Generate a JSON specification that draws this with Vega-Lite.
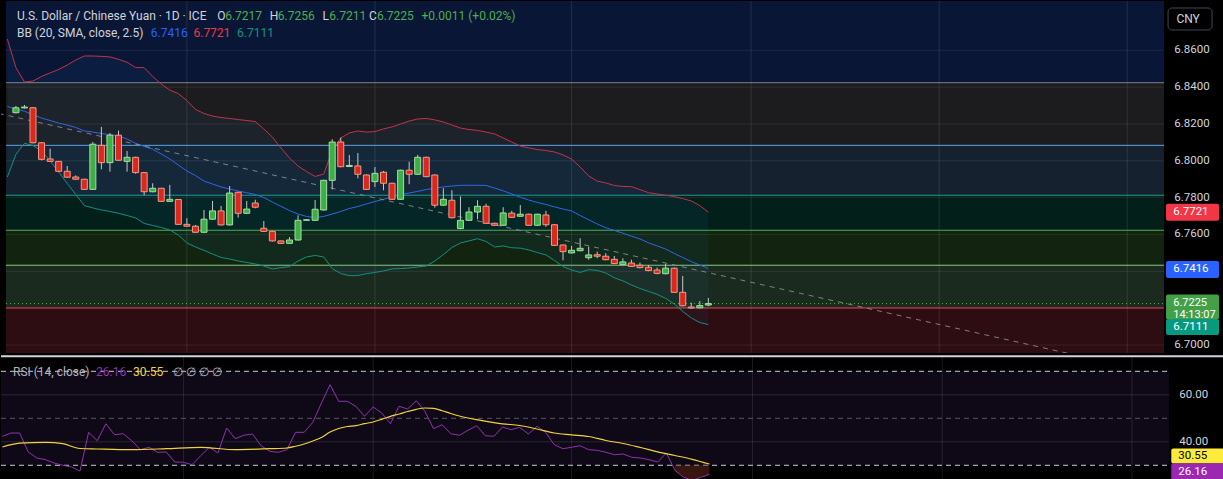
{
  "$schema": "https://vega.github.io/schema/vega-lite/v6.json",
  "background": "#000000",
  "padding": 0,
  "spacing": 0,
  "config": {
    "view": {"stroke": null},
    "text": {"font": "Roboto"}
  },
  "datasets": {
    "zones": [
      {"zone": "z0", "lo": 6.8424, "hi": 6.8900},
      {"zone": "z1", "lo": 6.8084, "hi": 6.8424},
      {"zone": "z2", "lo": 6.7813, "hi": 6.8084},
      {"zone": "z3", "lo": 6.7623, "hi": 6.7813},
      {"zone": "z4", "lo": 6.7433, "hi": 6.7623},
      {"zone": "z5", "lo": 6.7201, "hi": 6.7433},
      {"zone": "z6", "lo": 6.6900, "hi": 6.7201}
    ],
    "levels": [
      {"lvl": "a", "p": 6.8424},
      {"lvl": "b", "p": 6.8084},
      {"lvl": "c", "p": 6.7813},
      {"lvl": "d", "p": 6.7623},
      {"lvl": "e", "p": 6.7433},
      {"lvl": "f", "p": 6.7201}
    ],
    "hgrid": [{"p": 6.70}, {"p": 6.72}, {"p": 6.74}, {"p": 6.76}, {"p": 6.78}, {"p": 6.80}, {"p": 6.82}, {"p": 6.84}, {"p": 6.86}],
    "pticks": [{"p": 6.70}, {"p": 6.76}, {"p": 6.78}, {"p": 6.80}, {"p": 6.82}, {"p": 6.84}, {"p": 6.86}],
    "vgrid": [{"i": 20}, {"i": 42}, {"i": 65}, {"i": 86}, {"i": 108}, {"i": 130}],
    "rgrid": [{"v": 40}, {"v": 60}],
    "rdash": [{"v": 70}, {"v": 30}],
    "trend": [{"i": -2, "p": 6.8257}, {"i": 124, "p": 6.6945}],
    "candles": [
      {"i": 0, "o": 6.8261, "h": 6.8298, "l": 6.8258, "c": 6.8288},
      {"i": 1, "o": 6.8287, "h": 6.8303, "l": 6.8284, "c": 6.8292},
      {"i": 2, "o": 6.8288, "h": 6.8292, "l": 6.8095, "c": 6.8098},
      {"i": 3, "o": 6.8098, "h": 6.8100, "l": 6.8002, "c": 6.8008},
      {"i": 4, "o": 6.8010, "h": 6.8066, "l": 6.7994, "c": 6.7997},
      {"i": 5, "o": 6.7997, "h": 6.7999, "l": 6.7940, "c": 6.7943},
      {"i": 6, "o": 6.7943, "h": 6.7972, "l": 6.7908, "c": 6.7911},
      {"i": 7, "o": 6.7912, "h": 6.7921, "l": 6.7898, "c": 6.7900},
      {"i": 8, "o": 6.7900, "h": 6.7902, "l": 6.7843, "c": 6.7845},
      {"i": 9, "o": 6.7845, "h": 6.8102, "l": 6.7843, "c": 6.8090},
      {"i": 10, "o": 6.8084, "h": 6.8184, "l": 6.7954, "c": 6.7990},
      {"i": 11, "o": 6.7990, "h": 6.8151, "l": 6.7941, "c": 6.8139},
      {"i": 12, "o": 6.8139, "h": 6.8164, "l": 6.8000, "c": 6.8003},
      {"i": 13, "o": 6.7997, "h": 6.8053, "l": 6.7941, "c": 6.8019},
      {"i": 14, "o": 6.8019, "h": 6.8022, "l": 6.7930, "c": 6.7936},
      {"i": 15, "o": 6.7936, "h": 6.7938, "l": 6.7813, "c": 6.7832},
      {"i": 16, "o": 6.7832, "h": 6.7878, "l": 6.7829, "c": 6.7851},
      {"i": 17, "o": 6.7851, "h": 6.7853, "l": 6.7777, "c": 6.7780},
      {"i": 18, "o": 6.7780, "h": 6.7869, "l": 6.7777, "c": 6.7791},
      {"i": 19, "o": 6.7790, "h": 6.7793, "l": 6.7652, "c": 6.7655},
      {"i": 20, "o": 6.7655, "h": 6.7688, "l": 6.7642, "c": 6.7645},
      {"i": 21, "o": 6.7645, "h": 6.7652, "l": 6.7609, "c": 6.7612},
      {"i": 22, "o": 6.7612, "h": 6.7733, "l": 6.7609, "c": 6.7683},
      {"i": 23, "o": 6.7683, "h": 6.7782, "l": 6.7680, "c": 6.7728},
      {"i": 24, "o": 6.7728, "h": 6.7755, "l": 6.7649, "c": 6.7652},
      {"i": 25, "o": 6.7652, "h": 6.7863, "l": 6.7649, "c": 6.7825},
      {"i": 26, "o": 6.7829, "h": 6.7832, "l": 6.7691, "c": 6.7715},
      {"i": 27, "o": 6.7715, "h": 6.7782, "l": 6.7712, "c": 6.7738},
      {"i": 28, "o": 6.7771, "h": 6.7789, "l": 6.7742, "c": 6.7748},
      {"i": 29, "o": 6.7634, "h": 6.7673, "l": 6.7614, "c": 6.7617},
      {"i": 30, "o": 6.7617, "h": 6.7620, "l": 6.7562, "c": 6.7565},
      {"i": 31, "o": 6.7565, "h": 6.7567, "l": 6.7549, "c": 6.7552},
      {"i": 32, "o": 6.7552, "h": 6.7586, "l": 6.7549, "c": 6.7570},
      {"i": 33, "o": 6.7570, "h": 6.7704, "l": 6.7567, "c": 6.7677},
      {"i": 34, "o": 6.7677, "h": 6.7683, "l": 6.7674, "c": 6.7680},
      {"i": 35, "o": 6.7677, "h": 6.7787, "l": 6.7674, "c": 6.7737},
      {"i": 36, "o": 6.7733, "h": 6.7897, "l": 6.7730, "c": 6.7894},
      {"i": 37, "o": 6.7894, "h": 6.8117, "l": 6.7845, "c": 6.8102},
      {"i": 38, "o": 6.8102, "h": 6.8126, "l": 6.7965, "c": 6.7968},
      {"i": 39, "o": 6.7969, "h": 6.8032, "l": 6.7966, "c": 6.7975},
      {"i": 40, "o": 6.7972, "h": 6.8042, "l": 6.7905, "c": 6.7927},
      {"i": 41, "o": 6.7923, "h": 6.7926, "l": 6.7842, "c": 6.7845},
      {"i": 42, "o": 6.7887, "h": 6.7966, "l": 6.7858, "c": 6.7932},
      {"i": 43, "o": 6.7938, "h": 6.7945, "l": 6.7840, "c": 6.7878},
      {"i": 44, "o": 6.7878, "h": 6.7881, "l": 6.7788, "c": 6.7791},
      {"i": 45, "o": 6.7791, "h": 6.7952, "l": 6.7788, "c": 6.7949},
      {"i": 46, "o": 6.7949, "h": 6.7995, "l": 6.7873, "c": 6.7927},
      {"i": 47, "o": 6.7927, "h": 6.8032, "l": 6.7924, "c": 6.8019},
      {"i": 48, "o": 6.8019, "h": 6.8022, "l": 6.7911, "c": 6.7914},
      {"i": 49, "o": 6.7923, "h": 6.7926, "l": 6.7746, "c": 6.7759},
      {"i": 50, "o": 6.7759, "h": 6.7851, "l": 6.7756, "c": 6.7791},
      {"i": 51, "o": 6.7786, "h": 6.7840, "l": 6.7688, "c": 6.7691},
      {"i": 52, "o": 6.7632, "h": 6.7807, "l": 6.7629, "c": 6.7677},
      {"i": 53, "o": 6.7677, "h": 6.7748, "l": 6.7674, "c": 6.7722},
      {"i": 54, "o": 6.7722, "h": 6.7786, "l": 6.7683, "c": 6.7753},
      {"i": 55, "o": 6.7753, "h": 6.7767, "l": 6.7658, "c": 6.7661},
      {"i": 56, "o": 6.7661, "h": 6.7664, "l": 6.7647, "c": 6.7650},
      {"i": 57, "o": 6.7650, "h": 6.7748, "l": 6.7647, "c": 6.7717},
      {"i": 58, "o": 6.7716, "h": 6.7728, "l": 6.7690, "c": 6.7693},
      {"i": 59, "o": 6.7699, "h": 6.7760, "l": 6.7696, "c": 6.7710},
      {"i": 60, "o": 6.7710, "h": 6.7713, "l": 6.7647, "c": 6.7650},
      {"i": 61, "o": 6.7650, "h": 6.7713, "l": 6.7647, "c": 6.7710},
      {"i": 62, "o": 6.7706, "h": 6.7728, "l": 6.7642, "c": 6.7653},
      {"i": 63, "o": 6.7653, "h": 6.7656, "l": 6.7538, "c": 6.7541},
      {"i": 64, "o": 6.7543, "h": 6.7545, "l": 6.7460, "c": 6.7507},
      {"i": 65, "o": 6.7500, "h": 6.7538, "l": 6.7497, "c": 6.7514},
      {"i": 66, "o": 6.7512, "h": 6.7579, "l": 6.7509, "c": 6.7525},
      {"i": 67, "o": 6.7474, "h": 6.7534, "l": 6.7463, "c": 6.7489},
      {"i": 68, "o": 6.7490, "h": 6.7507, "l": 6.7471, "c": 6.7482},
      {"i": 69, "o": 6.7482, "h": 6.7498, "l": 6.7460, "c": 6.7463},
      {"i": 70, "o": 6.7465, "h": 6.7483, "l": 6.7439, "c": 6.7442},
      {"i": 71, "o": 6.7436, "h": 6.7471, "l": 6.7433, "c": 6.7451},
      {"i": 72, "o": 6.7445, "h": 6.7463, "l": 6.7424, "c": 6.7427},
      {"i": 73, "o": 6.7433, "h": 6.7447, "l": 6.7417, "c": 6.7420},
      {"i": 74, "o": 6.7422, "h": 6.7434, "l": 6.7401, "c": 6.7404},
      {"i": 75, "o": 6.7407, "h": 6.7420, "l": 6.7384, "c": 6.7389},
      {"i": 76, "o": 6.7387, "h": 6.7440, "l": 6.7384, "c": 6.7417},
      {"i": 77, "o": 6.7417, "h": 6.7420, "l": 6.7283, "c": 6.7286},
      {"i": 78, "o": 6.7286, "h": 6.7375, "l": 6.7210, "c": 6.7213},
      {"i": 79, "o": 6.7206, "h": 6.7230, "l": 6.7198, "c": 6.7201},
      {"i": 80, "o": 6.7202, "h": 6.7239, "l": 6.7199, "c": 6.7214},
      {"i": 81, "o": 6.7217, "h": 6.7256, "l": 6.7211, "c": 6.7225}
    ],
    "bb": [
      {"i": -1, "u": 6.8661, "m": 6.8295, "lo": 6.7912},
      {"i": 0, "u": 6.8506, "m": 6.8281, "lo": 6.8035},
      {"i": 1, "u": 6.8428, "m": 6.8269, "lo": 6.8095},
      {"i": 2, "u": 6.8433, "m": 6.8251, "lo": 6.8083},
      {"i": 3, "u": 6.8458, "m": 6.8232, "lo": 6.8053},
      {"i": 4, "u": 6.8477, "m": 6.8219, "lo": 6.7999},
      {"i": 5, "u": 6.8496, "m": 6.8205, "lo": 6.7939},
      {"i": 6, "u": 6.8520, "m": 6.8194, "lo": 6.7877},
      {"i": 7, "u": 6.8547, "m": 6.8181, "lo": 6.7817},
      {"i": 8, "u": 6.8569, "m": 6.8162, "lo": 6.7757},
      {"i": 9, "u": 6.8569, "m": 6.8156, "lo": 6.7744},
      {"i": 10, "u": 6.8567, "m": 6.8148, "lo": 6.7733},
      {"i": 11, "u": 6.8564, "m": 6.8142, "lo": 6.7725},
      {"i": 12, "u": 6.8551, "m": 6.8135, "lo": 6.7715},
      {"i": 13, "u": 6.8535, "m": 6.8118, "lo": 6.7703},
      {"i": 14, "u": 6.8506, "m": 6.8095, "lo": 6.7690},
      {"i": 15, "u": 6.8506, "m": 6.8078, "lo": 6.7660},
      {"i": 16, "u": 6.8458, "m": 6.8063, "lo": 6.7649},
      {"i": 17, "u": 6.8417, "m": 6.8037, "lo": 6.7638},
      {"i": 18, "u": 6.8384, "m": 6.8010, "lo": 6.7624},
      {"i": 19, "u": 6.8365, "m": 6.7977, "lo": 6.7597},
      {"i": 20, "u": 6.8327, "m": 6.7945, "lo": 6.7554},
      {"i": 21, "u": 6.8279, "m": 6.7920, "lo": 6.7532},
      {"i": 22, "u": 6.8257, "m": 6.7890, "lo": 6.7514},
      {"i": 23, "u": 6.8243, "m": 6.7874, "lo": 6.7494},
      {"i": 24, "u": 6.8235, "m": 6.7858, "lo": 6.7475},
      {"i": 25, "u": 6.8230, "m": 6.7847, "lo": 6.7467},
      {"i": 26, "u": 6.8224, "m": 6.7836, "lo": 6.7456},
      {"i": 27, "u": 6.8219, "m": 6.7827, "lo": 6.7448},
      {"i": 28, "u": 6.8213, "m": 6.7817, "lo": 6.7440},
      {"i": 29, "u": 6.8173, "m": 6.7801, "lo": 6.7429},
      {"i": 30, "u": 6.8129, "m": 6.7776, "lo": 6.7413},
      {"i": 31, "u": 6.8070, "m": 6.7753, "lo": 6.7420},
      {"i": 32, "u": 6.8015, "m": 6.7730, "lo": 6.7425},
      {"i": 33, "u": 6.7972, "m": 6.7711, "lo": 6.7456},
      {"i": 34, "u": 6.7942, "m": 6.7698, "lo": 6.7478},
      {"i": 35, "u": 6.7915, "m": 6.7691, "lo": 6.7486},
      {"i": 36, "u": 6.7928, "m": 6.7698, "lo": 6.7478},
      {"i": 37, "u": 6.8053, "m": 6.7711, "lo": 6.7415},
      {"i": 38, "u": 6.8124, "m": 6.7725, "lo": 6.7388},
      {"i": 39, "u": 6.8151, "m": 6.7741, "lo": 6.7377},
      {"i": 40, "u": 6.8162, "m": 6.7752, "lo": 6.7377},
      {"i": 41, "u": 6.8156, "m": 6.7766, "lo": 6.7387},
      {"i": 42, "u": 6.8159, "m": 6.7779, "lo": 6.7394},
      {"i": 43, "u": 6.8173, "m": 6.7791, "lo": 6.7402},
      {"i": 44, "u": 6.8184, "m": 6.7804, "lo": 6.7413},
      {"i": 45, "u": 6.8200, "m": 6.7816, "lo": 6.7415},
      {"i": 46, "u": 6.8216, "m": 6.7825, "lo": 6.7418},
      {"i": 47, "u": 6.8227, "m": 6.7834, "lo": 6.7424},
      {"i": 48, "u": 6.8230, "m": 6.7844, "lo": 6.7429},
      {"i": 49, "u": 6.8222, "m": 6.7851, "lo": 6.7456},
      {"i": 50, "u": 6.8211, "m": 6.7858, "lo": 6.7491},
      {"i": 51, "u": 6.8194, "m": 6.7863, "lo": 6.7529},
      {"i": 52, "u": 6.8178, "m": 6.7867, "lo": 6.7554},
      {"i": 53, "u": 6.8170, "m": 6.7867, "lo": 6.7565},
      {"i": 54, "u": 6.8165, "m": 6.7867, "lo": 6.7577},
      {"i": 55, "u": 6.8156, "m": 6.7866, "lo": 6.7562},
      {"i": 56, "u": 6.8146, "m": 6.7852, "lo": 6.7532},
      {"i": 57, "u": 6.8124, "m": 6.7837, "lo": 6.7538},
      {"i": 58, "u": 6.8102, "m": 6.7820, "lo": 6.7528},
      {"i": 59, "u": 6.8080, "m": 6.7802, "lo": 6.7526},
      {"i": 60, "u": 6.8070, "m": 6.7787, "lo": 6.7516},
      {"i": 61, "u": 6.8061, "m": 6.7774, "lo": 6.7502},
      {"i": 62, "u": 6.8056, "m": 6.7763, "lo": 6.7489},
      {"i": 63, "u": 6.8048, "m": 6.7750, "lo": 6.7459},
      {"i": 64, "u": 6.8032, "m": 6.7738, "lo": 6.7426},
      {"i": 65, "u": 6.8010, "m": 6.7728, "lo": 6.7407},
      {"i": 66, "u": 6.7966, "m": 6.7703, "lo": 6.7394},
      {"i": 67, "u": 6.7918, "m": 6.7680, "lo": 6.7409},
      {"i": 68, "u": 6.7890, "m": 6.7657, "lo": 6.7405},
      {"i": 69, "u": 6.7880, "m": 6.7637, "lo": 6.7391},
      {"i": 70, "u": 6.7866, "m": 6.7622, "lo": 6.7365},
      {"i": 71, "u": 6.7861, "m": 6.7607, "lo": 6.7348},
      {"i": 72, "u": 6.7860, "m": 6.7591, "lo": 6.7326},
      {"i": 73, "u": 6.7844, "m": 6.7576, "lo": 6.7307},
      {"i": 74, "u": 6.7827, "m": 6.7555, "lo": 6.7291},
      {"i": 75, "u": 6.7820, "m": 6.7538, "lo": 6.7275},
      {"i": 76, "u": 6.7813, "m": 6.7521, "lo": 6.7253},
      {"i": 77, "u": 6.7806, "m": 6.7497, "lo": 6.7223},
      {"i": 78, "u": 6.7795, "m": 6.7475, "lo": 6.7182},
      {"i": 79, "u": 6.7782, "m": 6.7453, "lo": 6.7147},
      {"i": 80, "u": 6.7757, "m": 6.7434, "lo": 6.7122},
      {"i": 81, "u": 6.7721, "m": 6.7416, "lo": 6.7111}
    ],
    "rsi": [
      {"i": -1, "r": 42.34}, {"i": 0, "r": 43.74}, {"i": 1, "r": 43.74}, {"i": 2, "r": 35.66}, {"i": 3, "r": 33.11},
      {"i": 4, "r": 32.38}, {"i": 5, "r": 30.98}, {"i": 6, "r": 30.00}, {"i": 7, "r": 29.28}, {"i": 8, "r": 27.57},
      {"i": 9, "r": 44.04}, {"i": 10, "r": 40.47}, {"i": 11, "r": 47.70}, {"i": 12, "r": 43.02}, {"i": 13, "r": 43.45},
      {"i": 14, "r": 40.47}, {"i": 15, "r": 36.64}, {"i": 16, "r": 37.66}, {"i": 17, "r": 35.53}, {"i": 18, "r": 35.66},
      {"i": 19, "r": 31.40}, {"i": 20, "r": 31.28}, {"i": 21, "r": 30.26}, {"i": 22, "r": 34.09}, {"i": 23, "r": 37.66},
      {"i": 24, "r": 35.23}, {"i": 25, "r": 45.87}, {"i": 26, "r": 41.32}, {"i": 27, "r": 42.77}, {"i": 28, "r": 43.32},
      {"i": 29, "r": 38.34}, {"i": 30, "r": 35.96}, {"i": 31, "r": 35.53}, {"i": 32, "r": 36.64}, {"i": 33, "r": 44.04},
      {"i": 34, "r": 44.04}, {"i": 35, "r": 48.30}, {"i": 36, "r": 56.51}, {"i": 37, "r": 64.30}, {"i": 38, "r": 57.23},
      {"i": 39, "r": 57.23}, {"i": 40, "r": 55.11}, {"i": 41, "r": 50.85}, {"i": 42, "r": 54.81}, {"i": 43, "r": 52.26},
      {"i": 44, "r": 47.70}, {"i": 45, "r": 55.11}, {"i": 46, "r": 53.96}, {"i": 47, "r": 57.49}, {"i": 48, "r": 52.98},
      {"i": 49, "r": 45.57}, {"i": 50, "r": 47.28}, {"i": 51, "r": 43.45}, {"i": 52, "r": 42.77}, {"i": 53, "r": 44.89},
      {"i": 54, "r": 46.85}, {"i": 55, "r": 42.60}, {"i": 56, "r": 42.34}, {"i": 57, "r": 46.30}, {"i": 58, "r": 45.15},
      {"i": 59, "r": 46.17}, {"i": 60, "r": 43.32}, {"i": 61, "r": 46.60}, {"i": 62, "r": 44.04}, {"i": 63, "r": 38.77},
      {"i": 64, "r": 37.06}, {"i": 65, "r": 37.66}, {"i": 66, "r": 38.34}, {"i": 67, "r": 36.64}, {"i": 68, "r": 36.38},
      {"i": 69, "r": 35.53}, {"i": 70, "r": 34.51}, {"i": 71, "r": 34.81}, {"i": 72, "r": 33.40}, {"i": 73, "r": 33.11},
      {"i": 74, "r": 32.38}, {"i": 75, "r": 31.40}, {"i": 76, "r": 35.23}, {"i": 77, "r": 27.87}, {"i": 78, "r": 24.89},
      {"i": 79, "r": 23.62}, {"i": 80, "r": 24.89}, {"i": 81, "r": 26.16}
    ],
    "rsima": [
      {"i": -1, "v": 37.79}, {"i": 1, "v": 39.40}, {"i": 4, "v": 39.79}, {"i": 6, "v": 39.19}, {"i": 8, "v": 37.15},
      {"i": 10, "v": 36.94}, {"i": 14, "v": 36.64}, {"i": 18, "v": 37.06}, {"i": 22, "v": 37.66}, {"i": 26, "v": 36.64},
      {"i": 30, "v": 37.06}, {"i": 32, "v": 37.36}, {"i": 33, "v": 38.09}, {"i": 34, "v": 39.06}, {"i": 35, "v": 40.34},
      {"i": 36, "v": 41.83}, {"i": 37, "v": 44.17}, {"i": 38, "v": 45.66}, {"i": 39, "v": 46.51}, {"i": 40, "v": 46.85},
      {"i": 41, "v": 47.70}, {"i": 42, "v": 48.43}, {"i": 43, "v": 49.57}, {"i": 44, "v": 50.85}, {"i": 45, "v": 51.83},
      {"i": 46, "v": 52.89}, {"i": 47, "v": 53.83}, {"i": 48, "v": 54.38}, {"i": 49, "v": 54.26}, {"i": 50, "v": 53.23},
      {"i": 51, "v": 52.04}, {"i": 52, "v": 50.98}, {"i": 53, "v": 50.13}, {"i": 54, "v": 49.40}, {"i": 56, "v": 48.17},
      {"i": 57, "v": 47.66}, {"i": 59, "v": 46.94}, {"i": 61, "v": 45.45}, {"i": 63, "v": 43.74}, {"i": 65, "v": 42.98},
      {"i": 67, "v": 42.26}, {"i": 69, "v": 40.55}, {"i": 71, "v": 39.28}, {"i": 73, "v": 37.57}, {"i": 75, "v": 35.74},
      {"i": 77, "v": 34.17}, {"i": 79, "v": 32.55}, {"i": 81, "v": 30.55}
    ]
  },
  "vconcat": [
    {
      "width": 1168,
      "height": 352,
      "layer": [
        {
          "data": {"name": "zones"},
          "mark": {"type": "rect", "clip": true},
          "encoding": {
            "x": {"datum": -1.16, "type": "quantitative", "scale": {"domain": [-1.16, 134.3], "nice": false, "zero": false}, "axis": null},
            "x2": {"datum": 134.3},
            "y": {"field": "lo", "type": "quantitative", "scale": {"domain": [6.69566, 6.88676], "nice": false, "zero": false}, "axis": null},
            "y2": {"field": "hi"},
            "fill": {"field": "zone", "type": "nominal", "legend": null,
              "scale": {"domain": ["z0", "z1", "z2", "z3", "z4", "z5", "z6"], "range": ["#0a1636", "#1c1c1f", "#15212f", "#031f1a", "#122410", "#1b2a1f", "#2d0c12"]}}
          }
        },
        {
          "data": {"name": "hgrid"},
          "mark": {"type": "rule", "stroke": "#ffffff", "strokeOpacity": 0.08, "strokeWidth": 1},
          "encoding": {
            "x": {"datum": -1.16, "type": "quantitative", "axis": null},
            "x2": {"datum": 134.3},
            "y": {"field": "p", "type": "quantitative", "axis": null}
          }
        },
        {
          "data": {"name": "vgrid"},
          "mark": {"type": "rule", "stroke": "#ffffff", "strokeOpacity": 0.1, "strokeWidth": 1},
          "encoding": {
            "x": {"field": "i", "type": "quantitative", "axis": null}
          }
        },
        {
          "data": {"name": "levels"},
          "mark": {"type": "rule", "strokeWidth": 1},
          "encoding": {
            "x": {"datum": -1.16, "type": "quantitative", "axis": null},
            "x2": {"datum": 134.3},
            "y": {"field": "p", "type": "quantitative", "axis": null},
            "stroke": {"field": "lvl", "type": "nominal", "legend": null,
              "scale": {"domain": ["a", "b", "c", "d", "e", "f"], "range": ["#80838d", "#5ea7e6", "#1f9e8f", "#4fae52", "#8bcf80", "#e0404e"]}}
          }
        },
        {
          "data": {"name": "bb"},
          "mark": {"type": "area", "fill": "#2196f3", "opacity": 0.06, "clip": true},
          "encoding": {
            "x": {"field": "i", "type": "quantitative", "axis": null},
            "y": {"field": "u", "type": "quantitative", "axis": null},
            "y2": {"field": "lo"}
          }
        },
        {
          "data": {"name": "bb"},
          "mark": {"type": "line", "stroke": "#c2334a", "strokeWidth": 1, "clip": true},
          "encoding": {
            "x": {"field": "i", "type": "quantitative", "axis": null},
            "y": {"field": "u", "type": "quantitative", "axis": null}
          }
        },
        {
          "data": {"name": "bb"},
          "mark": {"type": "line", "stroke": "#2f66e8", "strokeWidth": 1, "clip": true},
          "encoding": {
            "x": {"field": "i", "type": "quantitative", "axis": null},
            "y": {"field": "m", "type": "quantitative", "axis": null}
          }
        },
        {
          "data": {"name": "bb"},
          "mark": {"type": "line", "stroke": "#12917f", "strokeWidth": 1, "clip": true},
          "encoding": {
            "x": {"field": "i", "type": "quantitative", "axis": null},
            "y": {"field": "lo", "type": "quantitative", "axis": null}
          }
        },
        {
          "data": {"name": "trend"},
          "mark": {"type": "line", "stroke": "#9598a1", "strokeOpacity": 0.8, "strokeWidth": 1, "strokeDash": [5, 5], "clip": true},
          "encoding": {
            "x": {"field": "i", "type": "quantitative", "axis": null},
            "y": {"field": "p", "type": "quantitative", "axis": null}
          }
        },
        {
          "data": {"values": [{}]},
          "mark": {"type": "rule", "stroke": "#4caf50", "strokeWidth": 1, "strokeDash": [1, 3]},
          "encoding": {
            "x": {"datum": -1.16, "type": "quantitative", "axis": null},
            "x2": {"datum": 134.3},
            "y": {"datum": 6.7225, "type": "quantitative", "axis": null}
          }
        },
        {
          "data": {"name": "candles"},
          "mark": {"type": "rule", "stroke": "#c4c7ce", "strokeWidth": 1},
          "encoding": {
            "x": {"field": "i", "type": "quantitative", "axis": null},
            "y": {"field": "l", "type": "quantitative", "axis": null},
            "y2": {"field": "h"}
          }
        },
        {
          "data": {"name": "candles"},
          "mark": {"type": "bar", "width": 6, "strokeWidth": 1},
          "encoding": {
            "x": {"field": "i", "type": "quantitative", "axis": null},
            "y": {"field": "o", "type": "quantitative", "axis": null},
            "y2": {"field": "c"},
            "fill": {"condition": {"test": "datum.c < datum.o", "value": "#d9281e"}, "value": "#3daf48"},
            "stroke": {"condition": {"test": "datum.c < datum.o", "value": "#f49a86"}, "value": "#a3e09e"}
          }
        },
        {
          "data": {"name": "pticks"},
          "mark": {"type": "text", "align": "left", "baseline": "middle", "color": "#d1d4dc", "fontSize": 11.5},
          "encoding": {
            "x": {"datum": 135.5, "type": "quantitative", "axis": null},
            "y": {"field": "p", "type": "quantitative", "axis": null},
            "text": {"field": "p", "type": "quantitative", "format": ".4f"}
          }
        },
        {
          "data": {"values": [{}]},
          "mark": {"type": "tick", "orient": "horizontal", "size": 53, "thickness": 17, "color": "#f23645", "opacity": 1, "cornerRadius": 2},
          "encoding": {"x": {"datum": 137.64, "type": "quantitative", "axis": null}, "y": {"datum": 6.7721, "type": "quantitative", "axis": null}}
        },
        {
          "data": {"values": [{}]},
          "mark": {"type": "tick", "orient": "horizontal", "size": 53, "thickness": 17, "color": "#2962ff", "opacity": 1, "cornerRadius": 2, "yOffset": 1},
          "encoding": {"x": {"datum": 137.64, "type": "quantitative", "axis": null}, "y": {"datum": 6.7416, "type": "quantitative", "axis": null}}
        },
        {
          "data": {"values": [{}]},
          "mark": {"type": "tick", "orient": "horizontal", "size": 53, "thickness": 25, "color": "#43a047", "opacity": 1, "cornerRadius": 2, "yOffset": 3.5},
          "encoding": {"x": {"datum": 137.64, "type": "quantitative", "axis": null}, "y": {"datum": 6.7225, "type": "quantitative", "axis": null}}
        },
        {
          "data": {"values": [{}]},
          "mark": {"type": "tick", "orient": "horizontal", "size": 53, "thickness": 16, "color": "#089981", "opacity": 1, "cornerRadius": 2, "yOffset": 2.5},
          "encoding": {"x": {"datum": 137.64, "type": "quantitative", "axis": null}, "y": {"datum": 6.7111, "type": "quantitative", "axis": null}}
        },
        {
          "data": {"values": [{}]},
          "mark": {"type": "text", "align": "left", "baseline": "middle", "color": "#ffffff", "fontSize": 11.5, "text": "6.7721"},
          "encoding": {"x": {"datum": 135.38, "type": "quantitative", "axis": null}, "y": {"datum": 6.7721, "type": "quantitative", "axis": null}}
        },
        {
          "data": {"values": [{}]},
          "mark": {"type": "text", "align": "left", "baseline": "middle", "color": "#ffffff", "fontSize": 11.5, "text": "6.7416", "dy": 1},
          "encoding": {"x": {"datum": 135.38, "type": "quantitative", "axis": null}, "y": {"datum": 6.7416, "type": "quantitative", "axis": null}}
        },
        {
          "data": {"values": [{}]},
          "mark": {"type": "text", "align": "left", "baseline": "middle", "color": "#ffffff", "fontSize": 11, "text": "6.7225", "dy": -1},
          "encoding": {"x": {"datum": 135.38, "type": "quantitative", "axis": null}, "y": {"datum": 6.7225, "type": "quantitative", "axis": null}}
        },
        {
          "data": {"values": [{}]},
          "mark": {"type": "text", "align": "left", "baseline": "middle", "color": "#ffffff", "fontSize": 11, "text": "14:13:07", "dy": 11},
          "encoding": {"x": {"datum": 135.38, "type": "quantitative", "axis": null}, "y": {"datum": 6.7225, "type": "quantitative", "axis": null}}
        },
        {
          "data": {"values": [{}]},
          "mark": {"type": "text", "align": "left", "baseline": "middle", "color": "#ffffff", "fontSize": 11.5, "text": "6.7111", "dy": 2.5},
          "encoding": {"x": {"datum": 135.38, "type": "quantitative", "axis": null}, "y": {"datum": 6.7111, "type": "quantitative", "axis": null}}
        },
        {
          "data": {"values": [{}]},
          "mark": {"type": "tick", "orient": "horizontal", "size": 44, "thickness": 22, "color": "#000000", "stroke": "#434651", "strokeWidth": 1, "opacity": 1, "cornerRadius": 4},
          "encoding": {"x": {"datum": 137.35, "type": "quantitative", "axis": null}, "y": {"datum": 6.87699, "type": "quantitative", "axis": null}}
        },
        {
          "data": {"values": [{}]},
          "mark": {"type": "text", "align": "center", "baseline": "middle", "color": "#d1d4dc", "fontSize": 12, "text": "CNY"},
          "encoding": {"x": {"datum": 137.12, "type": "quantitative", "axis": null}, "y": {"datum": 6.87699, "type": "quantitative", "axis": null}}
        },
        {
          "data": {"values": [{}]},
          "mark": {"type": "text", "align": "left", "baseline": "middle", "color": "#d1d4dc", "fontSize": 12, "text": "U.S. Dollar / Chinese Yuan · 1D · ICE"},
          "encoding": {"x": {"datum": 0.12, "type": "quantitative", "axis": null}, "y": {"datum": 6.87862, "type": "quantitative", "axis": null}}
        },
        {
          "data": {"values": [{}]},
          "mark": {"type": "text", "align": "left", "baseline": "middle", "color": "#d1d4dc", "fontSize": 12, "text": "O"},
          "encoding": {"x": {"datum": 23.55, "type": "quantitative", "axis": null}, "y": {"datum": 6.87862, "type": "quantitative", "axis": null}}
        },
        {
          "data": {"values": [{}]},
          "mark": {"type": "text", "align": "left", "baseline": "middle", "color": "#4caf50", "fontSize": 12, "text": "6.7217"},
          "encoding": {"x": {"datum": 24.48, "type": "quantitative", "axis": null}, "y": {"datum": 6.87862, "type": "quantitative", "axis": null}}
        },
        {
          "data": {"values": [{}]},
          "mark": {"type": "text", "align": "left", "baseline": "middle", "color": "#d1d4dc", "fontSize": 12, "text": "H"},
          "encoding": {"x": {"datum": 29.70, "type": "quantitative", "axis": null}, "y": {"datum": 6.87862, "type": "quantitative", "axis": null}}
        },
        {
          "data": {"values": [{}]},
          "mark": {"type": "text", "align": "left", "baseline": "middle", "color": "#4caf50", "fontSize": 12, "text": "6.7256"},
          "encoding": {"x": {"datum": 30.63, "type": "quantitative", "axis": null}, "y": {"datum": 6.87862, "type": "quantitative", "axis": null}}
        },
        {
          "data": {"values": [{}]},
          "mark": {"type": "text", "align": "left", "baseline": "middle", "color": "#d1d4dc", "fontSize": 12, "text": "L"},
          "encoding": {"x": {"datum": 35.85, "type": "quantitative", "axis": null}, "y": {"datum": 6.87862, "type": "quantitative", "axis": null}}
        },
        {
          "data": {"values": [{}]},
          "mark": {"type": "text", "align": "left", "baseline": "middle", "color": "#4caf50", "fontSize": 12, "text": "6.7211"},
          "encoding": {"x": {"datum": 36.66, "type": "quantitative", "axis": null}, "y": {"datum": 6.87862, "type": "quantitative", "axis": null}}
        },
        {
          "data": {"values": [{}]},
          "mark": {"type": "text", "align": "left", "baseline": "middle", "color": "#d1d4dc", "fontSize": 12, "text": "C"},
          "encoding": {"x": {"datum": 41.30, "type": "quantitative", "axis": null}, "y": {"datum": 6.87862, "type": "quantitative", "axis": null}}
        },
        {
          "data": {"values": [{}]},
          "mark": {"type": "text", "align": "left", "baseline": "middle", "color": "#4caf50", "fontSize": 12, "text": "6.7225"},
          "encoding": {"x": {"datum": 42.23, "type": "quantitative", "axis": null}, "y": {"datum": 6.87862, "type": "quantitative", "axis": null}}
        },
        {
          "data": {"values": [{}]},
          "mark": {"type": "text", "align": "left", "baseline": "middle", "color": "#4caf50", "fontSize": 12, "text": "+0.0011 (+0.02%)"},
          "encoding": {"x": {"datum": 47.45, "type": "quantitative", "axis": null}, "y": {"datum": 6.87862, "type": "quantitative", "axis": null}}
        },
        {
          "data": {"values": [{}]},
          "mark": {"type": "text", "align": "left", "baseline": "middle", "color": "#d1d4dc", "fontSize": 12, "text": "BB (20, SMA, close, 2.5)"},
          "encoding": {"x": {"datum": 0.12, "type": "quantitative", "axis": null}, "y": {"datum": 6.86912, "type": "quantitative", "axis": null}}
        },
        {
          "data": {"values": [{}]},
          "mark": {"type": "text", "align": "left", "baseline": "middle", "color": "#2962ff", "fontSize": 12, "text": "6.7416"},
          "encoding": {"x": {"datum": 15.78, "type": "quantitative", "axis": null}, "y": {"datum": 6.86912, "type": "quantitative", "axis": null}}
        },
        {
          "data": {"values": [{}]},
          "mark": {"type": "text", "align": "left", "baseline": "middle", "color": "#f23645", "fontSize": 12, "text": "6.7721"},
          "encoding": {"x": {"datum": 20.77, "type": "quantitative", "axis": null}, "y": {"datum": 6.86912, "type": "quantitative", "axis": null}}
        },
        {
          "data": {"values": [{}]},
          "mark": {"type": "text", "align": "left", "baseline": "middle", "color": "#089981", "fontSize": 12, "text": "6.7111"},
          "encoding": {"x": {"datum": 25.87, "type": "quantitative", "axis": null}, "y": {"datum": 6.86912, "type": "quantitative", "axis": null}}
        }
      ]
    },
    {
      "width": 1168,
      "height": 127,
      "layer": [
        {
          "data": {"values": [{}]},
          "mark": {"type": "rect", "fill": "#7b3fb8", "opacity": 0.12},
          "encoding": {
            "x": {"datum": -1.16, "type": "quantitative", "scale": {"domain": [-1.16, 134.3], "nice": false, "zero": false}, "axis": null},
            "x2": {"datum": 134.3},
            "y": {"datum": 30, "type": "quantitative", "scale": {"domain": [22.89, 76.94], "nice": false, "zero": false}, "axis": null},
            "y2": {"datum": 70}
          }
        },
        {
          "data": {"name": "rgrid"},
          "mark": {"type": "rule", "stroke": "#ffffff", "strokeOpacity": 0.12, "strokeWidth": 1},
          "encoding": {
            "x": {"datum": -1.16, "type": "quantitative", "axis": null},
            "x2": {"datum": 134.3},
            "y": {"field": "v", "type": "quantitative", "axis": null}
          }
        },
        {
          "data": {"name": "rgrid"},
          "mark": {"type": "text", "align": "left", "baseline": "middle", "color": "#d1d4dc", "fontSize": 11.5},
          "encoding": {
            "x": {"datum": 135.5, "type": "quantitative", "axis": null},
            "y": {"field": "v", "type": "quantitative", "axis": null},
            "text": {"field": "v", "type": "quantitative", "format": ".2f"}
          }
        },
        {
          "data": {"name": "vgrid"},
          "mark": {"type": "rule", "stroke": "#ffffff", "strokeOpacity": 0.1, "strokeWidth": 1},
          "encoding": {
            "x": {"field": "i", "type": "quantitative", "axis": null}
          }
        },
        {
          "data": {"name": "rdash"},
          "mark": {"type": "rule", "stroke": "#c9ccd4", "strokeWidth": 1, "strokeDash": [5, 4]},
          "encoding": {
            "x": {"datum": -1.16, "type": "quantitative", "axis": null},
            "x2": {"datum": 134.3},
            "y": {"field": "v", "type": "quantitative", "axis": null}
          }
        },
        {
          "data": {"values": [{}]},
          "mark": {"type": "rule", "stroke": "#787b86", "strokeOpacity": 0.7, "strokeWidth": 1, "strokeDash": [5, 4]},
          "encoding": {
            "x": {"datum": -1.16, "type": "quantitative", "axis": null},
            "x2": {"datum": 134.3},
            "y": {"datum": 50, "type": "quantitative", "axis": null}
          }
        },
        {
          "data": {"name": "rsi"},
          "transform": [{"filter": "datum.i >= 77"}],
          "mark": {"type": "area", "fill": "#5a2418", "opacity": 0.6},
          "encoding": {
            "x": {"field": "i", "type": "quantitative", "axis": null},
            "y": {"field": "r", "type": "quantitative", "axis": null},
            "y2": {"datum": 30}
          }
        },
        {
          "data": {"name": "rsi"},
          "mark": {"type": "line", "stroke": "#8e33ad", "strokeWidth": 1, "clip": true},
          "encoding": {
            "x": {"field": "i", "type": "quantitative", "axis": null},
            "y": {"field": "r", "type": "quantitative", "axis": null}
          }
        },
        {
          "data": {"name": "rsima"},
          "mark": {"type": "line", "stroke": "#f0d43a", "strokeWidth": 1.2, "interpolate": "monotone", "clip": true},
          "encoding": {
            "x": {"field": "i", "type": "quantitative", "axis": null},
            "y": {"field": "v", "type": "quantitative", "axis": null}
          }
        },
        {
          "data": {"values": [{}]},
          "mark": {"type": "tick", "orient": "horizontal", "size": 53, "thickness": 15, "color": "#ffeb3b", "opacity": 1, "cornerRadius": 2, "yOffset": -8},
          "encoding": {"x": {"datum": 137.64, "type": "quantitative", "axis": null}, "y": {"datum": 30.55, "type": "quantitative", "axis": null}}
        },
        {
          "data": {"values": [{}]},
          "mark": {"type": "tick", "orient": "horizontal", "size": 53, "thickness": 17, "color": "#9c27b0", "opacity": 1, "cornerRadius": 2, "yOffset": -2.5},
          "encoding": {"x": {"datum": 137.64, "type": "quantitative", "axis": null}, "y": {"datum": 26.16, "type": "quantitative", "axis": null}}
        },
        {
          "data": {"values": [{}]},
          "mark": {"type": "text", "align": "left", "baseline": "middle", "color": "#000000", "fontSize": 11.5, "text": "30.55", "dy": -8},
          "encoding": {"x": {"datum": 135.38, "type": "quantitative", "axis": null}, "y": {"datum": 30.55, "type": "quantitative", "axis": null}}
        },
        {
          "data": {"values": [{}]},
          "mark": {"type": "text", "align": "left", "baseline": "middle", "color": "#ffffff", "fontSize": 11.5, "text": "26.16", "dy": -2.5},
          "encoding": {"x": {"datum": 135.38, "type": "quantitative", "axis": null}, "y": {"datum": 26.16, "type": "quantitative", "axis": null}}
        },
        {
          "data": {"values": [{}]},
          "mark": {"type": "text", "align": "left", "baseline": "middle", "color": "#b2b5be", "fontSize": 12, "text": "RSI (14, close)"},
          "encoding": {"x": {"datum": 0.23, "type": "quantitative", "axis": null}, "y": {"datum": 69.71, "type": "quantitative", "axis": null}}
        },
        {
          "data": {"values": [{}]},
          "mark": {"type": "text", "align": "left", "baseline": "middle", "color": "#8e33ad", "fontSize": 12, "text": "26.16"},
          "encoding": {"x": {"datum": 9.86, "type": "quantitative", "axis": null}, "y": {"datum": 69.71, "type": "quantitative", "axis": null}}
        },
        {
          "data": {"values": [{}]},
          "mark": {"type": "text", "align": "left", "baseline": "middle", "color": "#f0d43a", "fontSize": 12, "text": "30.55"},
          "encoding": {"x": {"datum": 14.15, "type": "quantitative", "axis": null}, "y": {"datum": 69.71, "type": "quantitative", "axis": null}}
        },
        {
          "data": {"values": [{}]},
          "mark": {"type": "text", "align": "left", "baseline": "middle", "color": "#b2b5be", "fontSize": 12, "text": "∅  ∅  ∅  ∅"},
          "encoding": {"x": {"datum": 18.79, "type": "quantitative", "axis": null}, "y": {"datum": 69.71, "type": "quantitative", "axis": null}}
        },
        {
          "data": {"values": [{}]},
          "mark": {"type": "rule", "stroke": "#d1d4dc", "strokeWidth": 2},
          "encoding": {
            "x": {"datum": -1.16, "type": "quantitative", "axis": null},
            "x2": {"datum": 140.72},
            "y": {"datum": 76.4, "type": "quantitative", "axis": null}
          }
        }
      ]
    }
  ]
}
